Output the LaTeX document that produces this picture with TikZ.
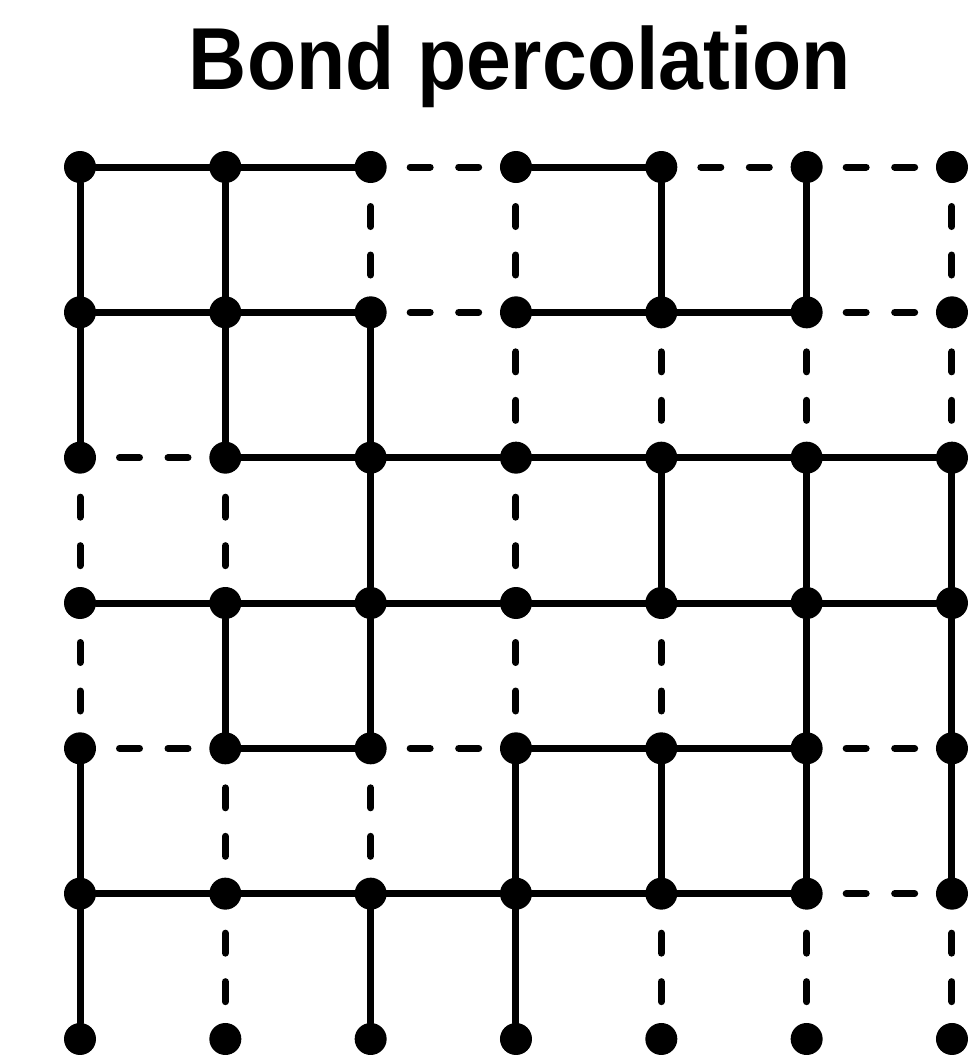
\documentclass[tikz,border=0pt]{standalone}
\usepackage{fontspec}
\usepackage{tikz}
\usetikzlibrary{positioning,calc}
\newfontfamily\titlefont[FakeStretch=0.915]{Liberation Sans}

\begin{document}
\begin{tikzpicture}[
    x=0.5pt,y=-0.5pt,
    site/.style={circle,fill=black,inner sep=0pt,outer sep=0pt,minimum size=16pt},
    openbond/.style={draw=black,line width=3.5pt,line cap=round},
    closedbond/.style={openbond,dash pattern=on 10pt off 14.25pt,dash phase=12.5pt},
    heading/.style={inner sep=0pt,anchor=base,font=\titlefont\bfseries\fontsize{44pt}{50pt}\selectfont}
  ]
    \useasboundingbox (0,0) rectangle (973,1056);
    \node[heading] (title) at (520,89) {Bond percolation};

    % lattice sites
    \foreach \r in {0,...,6}
      \foreach \c in {0,...,6}
        \node[site] (n\c\r) at ({80+145.33*\c},{167+145.33*\r}) {};

    % horizontal bonds
    \foreach \c/\r [evaluate=\c as \d using int(\c+1)] in {0/0,1/0,3/0, 0/1,1/1,3/1,4/1, 1/2,2/2,3/2,4/2,5/2,
                       0/3,1/3,2/3,3/3,4/3,5/3, 1/4,3/4,4/4, 0/5,1/5,2/5,3/5,4/5}
      \draw[openbond] (n\c\r) -- (n\d\r);
    \foreach \c/\r [evaluate=\c as \d using int(\c+1)] in {2/0,4/0,5/0, 2/1,5/1, 0/2, 0/4,2/4,5/4, 5/5}
      \draw[closedbond] (n\c\r) -- (n\d\r);

    % vertical bonds
    \foreach \c/\r [evaluate=\r as \s using int(\r+1)] in {0/0,0/1,0/4,0/5, 1/0,1/1,1/3, 2/1,2/2,2/3,2/5, 3/4,3/5,
                       4/0,4/2,4/4, 5/0,5/2,5/3,5/4, 6/2,6/3,6/4}
      \draw[openbond] (n\c\r) -- (n\c\s);
    \foreach \c/\r [evaluate=\r as \s using int(\r+1)] in {0/2,0/3, 1/2,1/4,1/5, 2/0,2/4, 3/0,3/1,3/2,3/3,
                       4/1,4/3,4/5, 5/1,5/5, 6/0,6/1,6/5}
      \draw[closedbond] (n\c\r) -- (n\c\s);
\end{tikzpicture}
\end{document}
